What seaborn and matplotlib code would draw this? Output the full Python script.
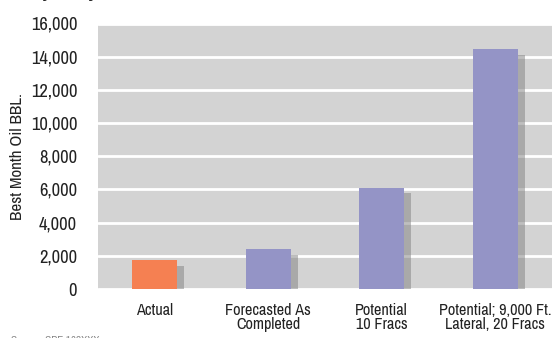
import matplotlib
matplotlib.use("Agg")
import matplotlib.pyplot as plt
import matplotlib.patheffects as pe
from matplotlib import font_manager
import seaborn as sns
import pandas as pd

# data
categories = ["Actual", "Forecasted As\nCompleted", "Potential\n10 Fracs",
              "Potential; 9,000 Ft.\nLateral, 20 Fracs"]
best_month_oil = [1750, 2400, 6100, 14450]
bar_colors = ["#F58052", "#9494C6", "#9494C6", "#9494C6"]
y_ticks = [0, 2000, 4000, 6000, 8000, 10000, 12000, 14000, 16000]

sns.set_theme(style="darkgrid")
names = sorted({f.name for f in font_manager.fontManager.ttflist})
narrow = [n for n in names if 'Narrow' in n or 'Condensed' in n]
if narrow:
    fam, fs = narrow[0], 12.8
else:
    fam, fs = "Liberation Sans", 10
plt.rcParams['font.family'] = [fam, 'DejaVu Sans']

df = pd.DataFrame({'cat': categories, 'val': best_month_oil})

fig = plt.figure(figsize=(5.52, 3.38), dpi=100)
ax = fig.add_axes([98 / 552, 1 - 289 / 338, 1 - 98 / 552, (289 - 23.5) / 338])
ax.set_facecolor("#D3D3D3")

sns.barplot(data=df, x='cat', y='val', hue='cat', palette=bar_colors,
            width=0.4, legend=False, ax=ax, saturation=1, zorder=3)
for p in ax.patches:
    p.set_edgecolor('none')
    p.set_path_effects([pe.SimplePatchShadow(offset=(5, -4), shadow_rgbFace='#808080', alpha=0.5),
                        pe.Normal()])

ax.set_ylim(0, 16000)
ax.set_xlim(-0.5, 3.5)
ax.set_yticks(y_ticks)
ax.set_yticklabels([f"{v:,}" for v in y_ticks], fontsize=fs + 0.5, color="#222222")
ax.tick_params(axis='x', labelsize=fs - 1.1, colors="#222222", pad=4)
ax.tick_params(axis='y', pad=9)
ax.grid(axis='y', color='white', linewidth=2)
ax.grid(axis='x', visible=False)
for s in ax.spines.values():
    s.set_visible(False)
ax.set_xlabel("")
ax.set_ylabel("Best Month Oil BBL.", fontsize=fs - 0.5, color="#222222")
ax.yaxis.set_label_coords(-0.161, 0.5)
for lbl in ax.get_xticklabels():
    lbl.set_linespacing(0.9)

fig.text(0.0, 1.03, "Study Project", fontsize=18, fontweight='bold', color="#222222",
         va='center', ha='left')
fig.text(0.02, -0.01, "Source: SPE 163XXX", fontsize=8, color="#888888", va='center')

fig.savefig("out.png", dpi=100)
